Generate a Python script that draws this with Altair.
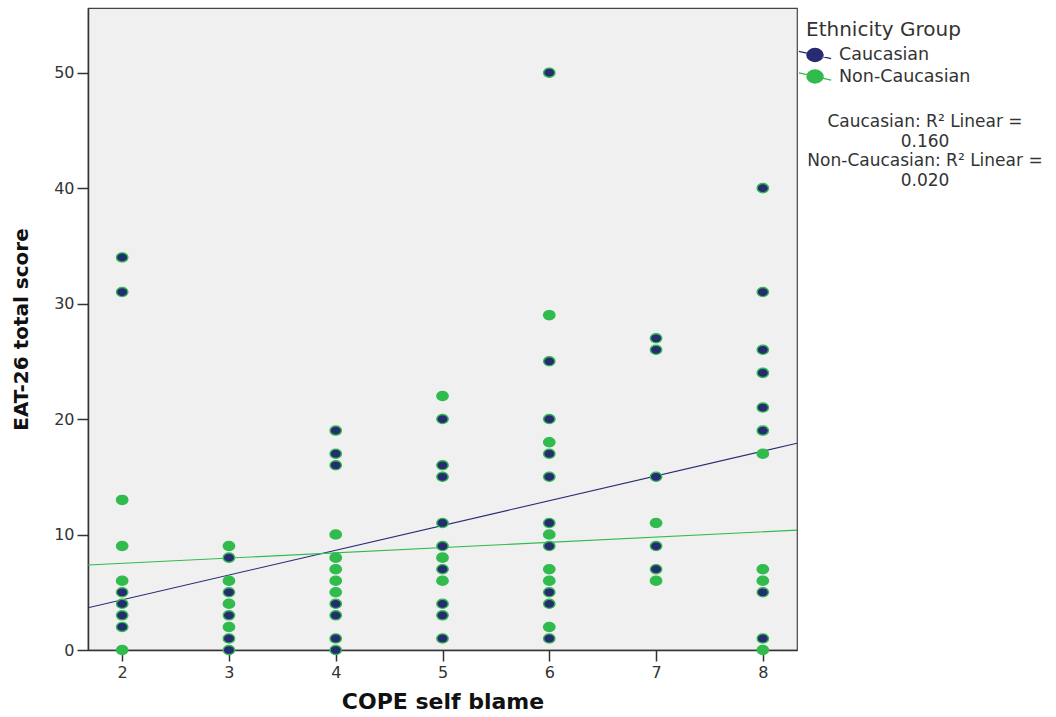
import altair as alt
import pandas as pd

# Observed (COPE self blame, EAT-26 total score) pairs per ethnicity group
cope_caucasian = [2, 2, 2, 2, 2, 2,
                  3, 3, 3, 3, 3,
                  4, 4, 4, 4, 4, 4, 4,
                  5, 5, 5, 5, 5, 5, 5, 5, 5,
                  6, 6, 6, 6, 6, 6, 6, 6, 6, 6,
                  7, 7, 7, 7, 7,
                  8, 8, 8, 8, 8, 8, 8, 8]
eat_caucasian = [34, 31, 5, 4, 3, 2,
                 8, 5, 3, 1, 0,
                 19, 17, 16, 4, 3, 1, 0,
                 20, 16, 15, 11, 9, 7, 4, 3, 1,
                 50, 25, 20, 17, 15, 11, 9, 5, 4, 1,
                 27, 26, 15, 9, 7,
                 40, 31, 26, 24, 21, 19, 5, 1]

cope_non_caucasian = [2, 2, 2, 2,
                      3, 3, 3, 3,
                      4, 4, 4, 4, 4,
                      5, 5, 5,
                      6, 6, 6, 6, 6, 6,
                      7, 7,
                      8, 8, 8, 8]
eat_non_caucasian = [13, 9, 6, 0,
                     9, 6, 4, 2,
                     10, 8, 7, 6, 5,
                     22, 8, 6,
                     29, 18, 10, 7, 6, 2,
                     11, 6,
                     17, 7, 6, 0]

# Linear fit lines per group
groups = ["Caucasian", "Non-Caucasian"]
fit_intercepts = [0.06, 6.59]
fit_slopes = [2.145, 0.456]
r_squared = ["0.160", "0.020"]

group_colors = ["#272b72", "#30bb4c"]
ring_color = "#33bb50"

x_domain = [1.68, 8.32]
y_domain = [0, 55.6]

points = pd.concat([
    pd.DataFrame({"cope": cope_caucasian, "eat": eat_caucasian, "group": groups[0]}),
    pd.DataFrame({"cope": cope_non_caucasian, "eat": eat_non_caucasian, "group": groups[1]}),
], ignore_index=True)

fit_rows = []
for g, b0, b1 in zip(groups, fit_intercepts, fit_slopes):
    for xv in x_domain:
        fit_rows.append({"cope": xv, "eat": b0 + b1 * xv, "group": g})
fits = pd.DataFrame(fit_rows)

ellipse = "M -1 0 A 1 0.8 0 1 1 1 0 A 1 0.8 0 1 1 -1 0 Z"
legend_shape = ellipse + " M -2.0 -0.45 L 2.0 0.45"

x_scale = alt.Scale(domain=x_domain, nice=False, zero=False)
y_scale = alt.Scale(domain=y_domain, nice=False, zero=False)
color_scale = alt.Scale(domain=groups, range=group_colors)

x_axis = alt.Axis(title="COPE self blame", values=[2, 3, 4, 5, 6, 7, 8], format="d",
                  titlePadding=11, titleFontSize=22)
y_axis = alt.Axis(title="EAT-26 total score", values=[0, 10, 20, 30, 40, 50],
                  titlePadding=22, titleFontSize=20)

legend = alt.Legend(
    title="Ethnicity Group", orient="none", legendX=718, legendY=12,
    symbolType=legend_shape, symbolSize=260, symbolStrokeColor=ring_color,
    symbolStrokeWidth=1.4, symbolOpacity=1,
    labelOffset=15, rowPadding=1.5,
    titleFontSize=20, titleFontWeight="normal", titleColor="#333333",
    labelFontSize=17.5, labelColor="#333333", titlePadding=6,
)

lines = alt.Chart(fits).mark_line(strokeWidth=1.1, clip=True).encode(
    x=alt.X("cope:Q", scale=x_scale, axis=x_axis),
    y=alt.Y("eat:Q", scale=y_scale, axis=y_axis),
    color=alt.Color("group:N", scale=color_scale, legend=legend),
)

dots = alt.Chart(points).mark_point(
    filled=True, shape=ellipse, size=130, opacity=1,
    stroke=ring_color, strokeWidth=1.4,
).encode(
    x=alt.X("cope:Q", scale=x_scale),
    y=alt.Y("eat:Q", scale=y_scale),
    color=alt.Color("group:N", scale=color_scale, legend=legend),
)

r2_lines = []
for g, r in zip(groups, r_squared):
    r2_lines += [f"{g}: R\u00b2 Linear =", r]
r2_text = alt.Chart(pd.DataFrame({"t": ["\n".join(r2_lines)]})).mark_text(
    align="center", baseline="top", fontSize=17, lineHeight=19.5,
    lineBreak="\n", color="#333333", font="DejaVu Sans",
).encode(
    x=alt.value(837), y=alt.value(106), text="t:N",
)

chart = alt.layer(lines, dots, r2_text).properties(
    width=709, height=642,
    autosize=alt.AutoSizeParams(type="none"),
    padding={"left": 88, "top": 8, "right": 259, "bottom": 67},
    background="white",
).configure_view(
    fill="#f0f0f0", stroke="#444444", strokeWidth=1.2,
).configure_axis(
    grid=False, domainColor="#333333", domainWidth=1.5, tickColor="#333333",
    tickWidth=1.5, tickSize=11, labelFontSize=16, labelColor="#333333",
    labelFont="DejaVu Sans", titleFont="DejaVu Sans",
    titleFontWeight="bold", titleColor="#111111", labelPadding=3,
).configure_legend(
    labelFont="DejaVu Sans", titleFont="DejaVu Sans",
).configure_text(font="DejaVu Sans")

chart.save("out.html", embed_options={"renderer": "svg", "actions": False})
